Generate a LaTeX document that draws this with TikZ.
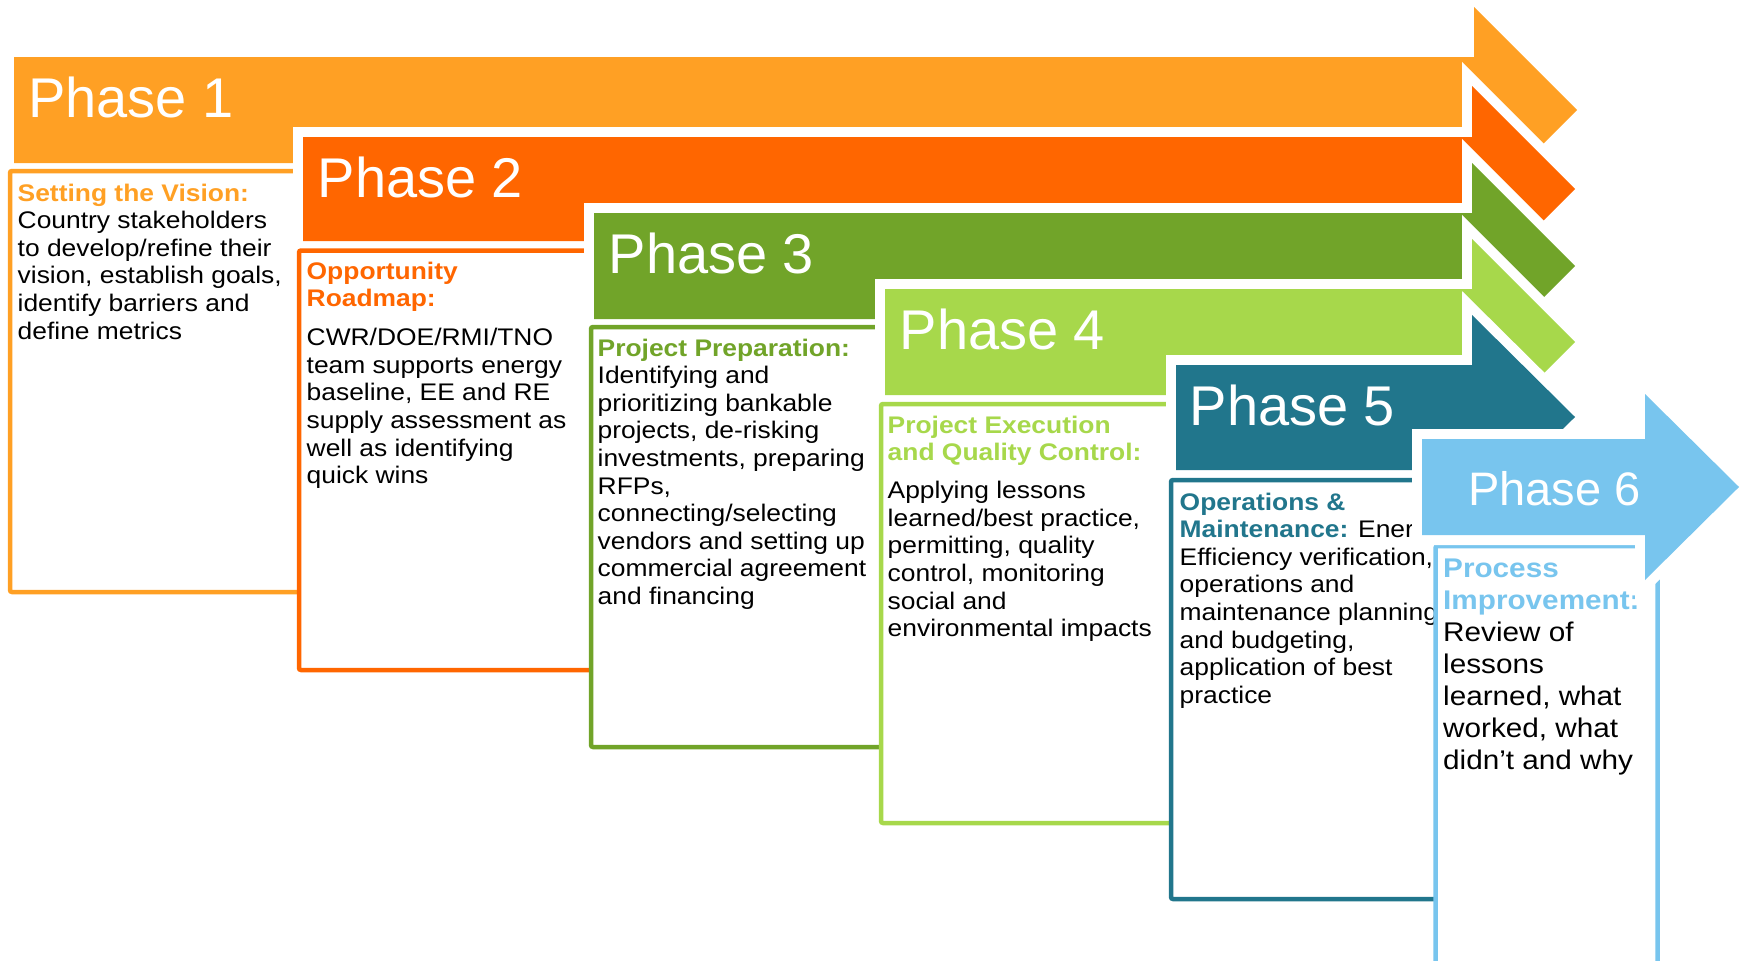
\documentclass[tikz,border=0pt]{standalone}
\usepackage{fontspec}
\setmainfont{Liberation Sans}
\newfontfamily\bodyfont[FakeStretch=1.1]{Liberation Sans}
\definecolor{cOne}{HTML}{FFA024}
\definecolor{cTwo}{HTML}{FF6600}
\definecolor{cThree}{HTML}{71A429}
\definecolor{cFour}{HTML}{A7D84B}
\definecolor{cFive}{HTML}{21768C}
\definecolor{cSix}{HTML}{78C5EE}
\newcommand{\boxlines}[1]{\begin{tabular}[t]{@{}l@{}}#1\end{tabular}}
\tikzset{
  barout/.style={draw=white, line width=20pt, line join=miter},
  boxframe/.style={line width=4.5pt, fill=white, rounded corners=2pt},
  phaselbl/.style={anchor=base west, inner sep=0pt, text=white, font=\fontsize{56}{60}\selectfont},
  boxtxt/.style={anchor=base west, inner sep=0pt, font=\bodyfont\fontsize{24}{27.6}\selectfont},
  boxtxtbig/.style={anchor=base west, inner sep=0pt, font=\bodyfont\fontsize{27}{32}\selectfont},
}
\begin{document}
\begin{tikzpicture}[x=1pt,y=-1pt]
\useasboundingbox (0,0) rectangle (1740,961);
% ---------- Phase 1
\draw[barout] (14,57) -- (1474,57) -- (1474,7) -- (1577,110) -- (1474,213) -- (1474,163) -- (14,163) -- cycle;
\fill[cOne] (14,57) -- (1474,57) -- (1474,7) -- (1577,110) -- (1474,213) -- (1474,163) -- (14,163) -- cycle;
\node[phaselbl] (p1) at (28,117) {Phase 1};
\draw[boxframe, draw=cOne] (10,171) rectangle (320,592);
\node[boxtxt] (t1) at (17.5,201) {\boxlines{\textcolor{cOne}{\bfseries Setting the Vision:}\\Country stakeholders\\to develop/refine their\\vision, establish goals,\\identify barriers and\\define metrics}};
% ---------- Phase 2
\draw[barout] (303,137) -- (1472,137) -- (1472,86) -- (1575,189) -- (1472,292) -- (1472,241) -- (303,241) -- cycle;
\fill[cTwo] (303,137) -- (1472,137) -- (1472,86) -- (1575,189) -- (1472,292) -- (1472,241) -- (303,241) -- cycle;
\node[phaselbl] (p2) at (317.5,197) {Phase 2};
\draw[boxframe, draw=cTwo] (299,250.5) rectangle (611,670);
\node[boxtxt] (t2) at (306.5,279) {\boxlines{\textcolor{cTwo}{\bfseries Opportunity}\\\textcolor{cTwo}{\bfseries Roadmap:}\\[11.4pt]CWR/DOE/RMI/TNO\\team supports energy\\baseline, EE and RE\\supply assessment as\\well as identifying\\quick wins}};
% ---------- Phase 3
\draw[barout] (594,213) -- (1472,213) -- (1472,163) -- (1575,266) -- (1472,369) -- (1472,319) -- (594,319) -- cycle;
\fill[cThree] (594,213) -- (1472,213) -- (1472,163) -- (1575,266) -- (1472,369) -- (1472,319) -- (594,319) -- cycle;
\node[phaselbl] (p3) at (608.5,273) {Phase 3};
\draw[boxframe, draw=cThree] (591,327) rectangle (900,747);
\node[boxtxt] (t3) at (597.5,356) {\boxlines{\textcolor{cThree}{\bfseries Project Preparation:}\\Identifying and\\prioritizing bankable\\projects, de-risking\\investments, preparing\\RFPs,\\connecting/selecting\\vendors and setting up\\commercial agreement\\and financing}};
% ---------- Phase 4
\draw[barout] (885,289) -- (1472,289) -- (1472,239) -- (1575,342) -- (1472,445) -- (1472,395) -- (885,395) -- cycle;
\fill[cFour] (885,289) -- (1472,289) -- (1472,239) -- (1575,342) -- (1472,445) -- (1472,395) -- (885,395) -- cycle;
\node[phaselbl] (p4) at (899.5,349) {Phase 4};
\draw[boxframe, draw=cFour] (881,404) rectangle (1190,823);
\node[boxtxt] (t4) at (887.5,433) {\boxlines{\textcolor{cFour}{\bfseries Project Execution}\\\textcolor{cFour}{\bfseries and Quality Control:}\\[10.4pt]Applying lessons\\learned/best practice,\\permitting, quality\\control, monitoring\\social and\\environmental impacts}};
% ---------- Phase 5
\draw[barout] (1176,365) -- (1472,365) -- (1472,315) -- (1575,417) -- (1472,519) -- (1472,470) -- (1176,470) -- cycle;
\fill[cFive] (1176,365) -- (1472,365) -- (1472,315) -- (1575,417) -- (1472,519) -- (1472,470) -- (1176,470) -- cycle;
\node[phaselbl] (p5) at (1189.5,425) {Phase 5};
\draw[boxframe, draw=cFive] (1171,480) rectangle (1500,899);
\node[boxtxt] (t5) at (1179.5,510) {\boxlines{\textcolor{cFive}{\bfseries Operations \&}\\\textcolor{cFive}{\bfseries Maintenance:} Energy\\Efficiency verification,\\operations and\\maintenance planning\\and budgeting,\\application of best\\practice}};
% ---------- Phase 6
\draw[boxframe, draw=cSix] (1435.5,1000) -- (1435.5,546) -- (1657.5,546) -- (1657.5,1000);
\node[boxtxtbig] (t6) at (1443,577) {\boxlines{\textcolor{cSix}{\bfseries Process}\\\textcolor{cSix}{\bfseries Improvement:}\\Review of\\lessons\\learned, what\\worked, what\\didn’t and why}};
\draw[barout] (1422,439) -- (1645,439) -- (1645,394) -- (1739,487) -- (1645,580) -- (1645,535) -- (1422,535) -- cycle;
\fill[cSix] (1422,439) -- (1645,439) -- (1645,394) -- (1739,487) -- (1645,580) -- (1645,535) -- (1422,535) -- cycle;
\node[phaselbl, font=\fontsize{47}{50}\selectfont] (p6) at (1468,505) {Phase 6};
\end{tikzpicture}
\end{document}
